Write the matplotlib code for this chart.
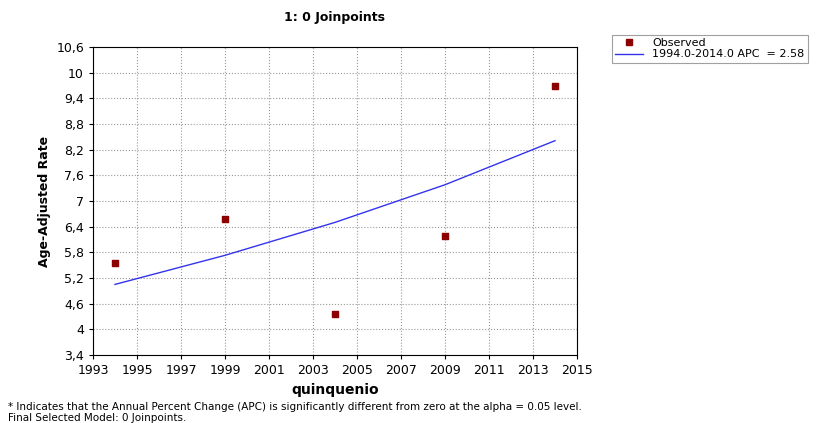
import numpy as np
import matplotlib.pyplot as plt
from matplotlib.lines import Line2D

years = [1994, 1999, 2004, 2009, 2014]
observed = [5.55, 6.57, 4.35, 6.18, 9.68]
modeled = [5.05, 5.73, 6.50, 7.38, 8.41]
xticks = list(range(1993, 2016, 2))
yticks = [3.4, 4, 4.6, 5.2, 5.8, 6.4, 7, 7.6, 8.2, 8.8, 9.4, 10, 10.6]

W, H = 829, 423
fig = plt.figure(figsize=(W / 100, H / 100), dpi=100)
ax = fig.add_axes([93 / W, 1 - 355 / H, (577 - 93) / W, (355 - 47) / H])

ax.plot(years, modeled, color='#3333ee', lw=1)
ax.scatter(years, observed, marker='s', s=18, color='#8b0000', zorder=5)

ax.set_xlim(1993, 2015)
ax.set_ylim(3.4, 10.6)
ax.set_xticks(xticks)
ax.set_yticks(yticks)
ax.set_yticklabels([f'{v:g}'.replace('.', ',') for v in yticks])
ax.tick_params(labelsize=9, length=3)
ax.grid(True, color='#999999', linestyle=':', lw=0.8)
ax.set_xlabel('quinquenio', fontsize=10, fontweight='bold')
ax.set_ylabel('Age-Adjusted Rate', fontsize=9, fontweight='bold')
fig.text(335 / W, 1 - 17 / H, '1: 0 Joinpoints', ha='center', va='center',
         fontsize=9, fontweight='bold')

handles = [Line2D([], [], marker='s', ls='none', color='#8b0000', ms=4),
           Line2D([], [], color='#3333ee', lw=1)]
leg = fig.legend(handles, ['Observed', '1994.0-2014.0 APC  = 2.58'],
                 loc='upper left', bbox_to_anchor=(612 / W, 1 - 35 / H),
                 fontsize=8, frameon=True, fancybox=False, borderpad=0.3,
                 handlelength=2.5, labelspacing=0.1, borderaxespad=0)
leg.get_frame().set_edgecolor('#888888')
leg.get_frame().set_linewidth(0.8)

fig.text(8 / W, 1 - 407 / H,
         '* Indicates that the Annual Percent Change (APC) is significantly different from zero at the alpha = 0.05 level.',
         fontsize=7.5, va='center')
fig.text(8 / W, 1 - 418 / H, 'Final Selected Model: 0 Joinpoints.', fontsize=7.5, va='center')

fig.savefig('out.png', dpi=100)
